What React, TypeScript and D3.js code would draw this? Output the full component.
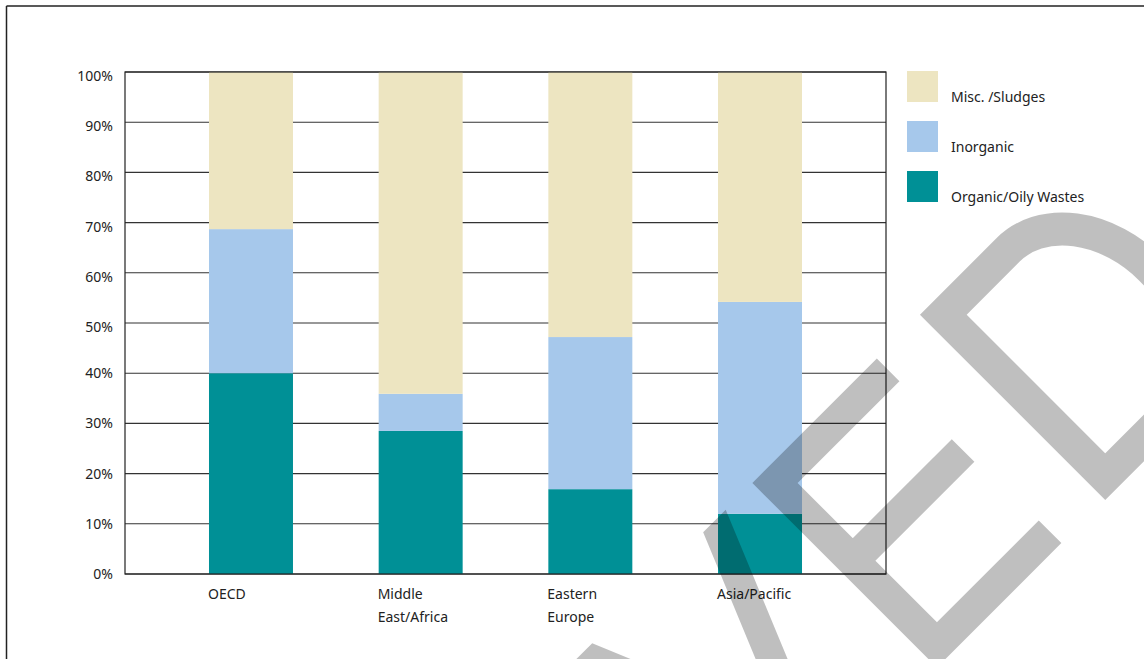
import React from "react";
import * as d3 from "d3";

const categories: string[][] = [["OECD"], ["Middle", "East/Africa"], ["Eastern", "Europe"], ["Asia/Pacific"]];
const organic = [40.0, 28.5, 16.9, 12.0];
const inorganic = [28.7, 7.4, 30.3, 42.2];
const misc = [31.3, 64.1, 52.8, 45.8];
const seriesNames = ["Organic/Oily Wastes", "Inorganic", "Misc. /Sludges"];
const seriesColors = ["#009096", "#A6C8EB", "#EDE5C1"];
const yTicks = [0, 10, 20, 30, 40, 50, 60, 70, 80, 90, 100];

const W = 1144;
const H = 659;
const plot = { left: 125, right: 886, top: 72, bottom: 574 };
const FONT = "'Noto Sans', 'Open Sans', sans-serif";

export default function App() {
  const x = d3
    .scaleBand<number>()
    .domain(categories.map((_, i) => i))
    .range([plot.left, plot.right])
    .paddingInner(0.505)
    .paddingOuter(0.495);
  const y = d3.scaleLinear().domain([0, 100]).range([plot.bottom, plot.top]);

  const rows = categories.map((_, i) => ({ i, s0: organic[i], s1: inorganic[i], s2: misc[i] }));
  const stack = d3.stack<any>().keys(["s0", "s1", "s2"]);
  const layers = stack(rows);

  // legend order top to bottom: misc, inorganic, organic
  const legendOrder = [2, 1, 0];

  return (
    <svg
      width={W}
      height={H}
      style={{ position: "absolute", left: 0, top: 0, background: "#fff" }}
      fontFamily={FONT}
    >
      <rect x={0} y={0} width={W} height={H} fill="#fff" />
      {/* outer frame */}
      <line x1={6.5} y1={6} x2={W} y2={6} stroke="#222" strokeWidth={1.5} />
      <line x1={6.5} y1={6} x2={6.5} y2={H} stroke="#222" strokeWidth={1.5} />

      {/* gridlines */}
      {yTicks.map((t) => (
        <line
          key={"g" + t}
          x1={plot.left}
          x2={plot.right}
          y1={y(t)}
          y2={y(t)}
          stroke="#333"
          strokeWidth={1.1}
        />
      ))}

      {/* bars */}
      {layers.map((layer, li) => (
        <g key={"l" + li} fill={seriesColors[li]}>
          {layer.map((d: any, ci: number) => (
            <rect
              key={ci}
              x={x(ci)}
              width={x.bandwidth()}
              y={y(d[1])}
              height={y(d[0]) - y(d[1])}
            />
          ))}
        </g>
      ))}

      {/* plot frame */}
      <rect
        x={plot.left}
        y={plot.top}
        width={plot.right - plot.left}
        height={plot.bottom - plot.top}
        fill="none"
        stroke="#222"
        strokeWidth={1.2}
      />

      {/* y tick labels */}
      {yTicks.map((t) => (
        <text
          key={"t" + t}
          x={113}
          y={y(t) + (t >= 50 ? 4 : 0)}
          dy="0.35em"
          textAnchor="end"
          fontSize={14}
          fill="#222"
        >
          {t + "%"}
        </text>
      ))}

      {/* category labels */}
      {categories.map((lines, i) => (
        <text key={"c" + i} x={(x(i) as number) - 1} y={599} fontSize={14} fill="#222">
          {lines.map((ln, k) => (
            <tspan key={k} x={(x(i) as number) - 1} dy={k === 0 ? 0 : 23}>
              {ln}
            </tspan>
          ))}
        </text>
      ))}

      {/* legend */}
      {legendOrder.map((si, k) => (
        <g key={"lg" + si} transform={`translate(907,${71 + k * 50})`}>
          <rect width={31} height={31} fill={seriesColors[si]} />
          <text x={44} y={31} fontSize={14} fill="#222">
            {seriesNames[si]}
          </text>
        </g>
      ))}

      {/* watermark stamp */}
      <g transform="translate(775,483) rotate(45)" fill="none" stroke="#000" strokeOpacity={0.25}>
        <path
          d="M-16,274.5 L-16,242.5 L173,164 L-16,85.6 L-16,53.7 L250.7,164.1 Z"
          fill="#000"
          fillOpacity={0.25}
          stroke="none"
        />
        <path
          d="M0,-160 L0,0 L229,0 L229,-160 M110,0 L110,-156"
          strokeWidth={32}
          strokeLinejoin="miter"
          strokeLinecap="butt"
        />
        <path
          d="M0,-238 L229,-238 L229,-329.6 A114.5,87.6 0 0,0 0,-329.6 Z"
          strokeWidth={33}
          strokeLinejoin="miter"
        />
      </g>
    </svg>
  );
}
